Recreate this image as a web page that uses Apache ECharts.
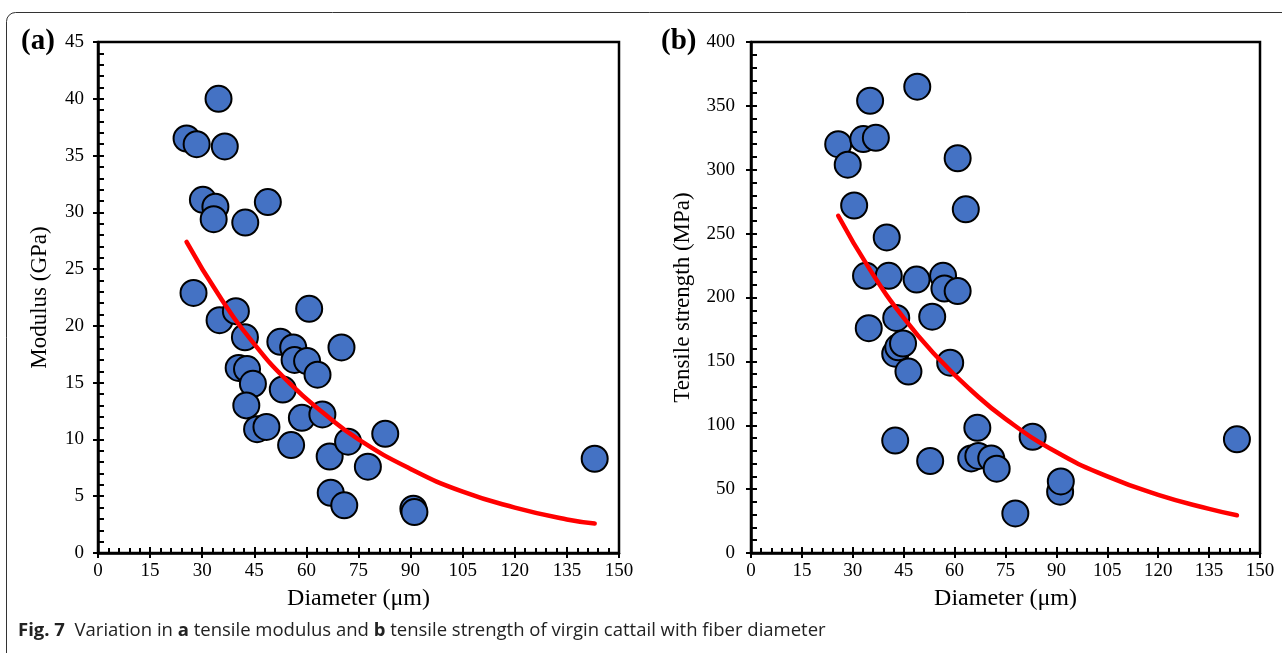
<!DOCTYPE html>
<html>
<head>
<meta charset="utf-8">
<script src="https://cdn.jsdelivr.net/npm/echarts@6/dist/echarts.min.js"></script>
<style>
html,body{margin:0;padding:0;background:#fff;}
#chart{width:1282px;height:653px;}
</style>
</head>
<body>
<div id="chart"></div>
<script>
// ---- Data ----
// Panel (a): modulus vs diameter
const diamA = [25.5, 28.4, 34.7, 36.5, 30.2, 33.8, 33.3, 42.4, 48.9, 27.5, 35.0, 39.7, 60.8,
  42.3, 52.5, 56.2, 56.6, 60.2, 63.2, 70.1, 40.5, 42.9, 44.6, 53.2, 42.7, 45.8, 48.5, 58.7,
  64.6, 55.6, 66.7, 72.0, 77.7, 82.7, 67.0, 70.9, 90.8, 91.1, 143.0];
const modA = [36.5, 36.0, 40.0, 35.8, 31.1, 30.5, 29.4, 29.1, 30.9, 22.9, 20.5, 21.3, 21.5,
  19.0, 18.6, 18.1, 17.0, 16.9, 15.7, 18.1, 16.3, 16.2, 14.9, 14.4, 13.0, 10.9, 11.1, 11.9,
  12.2, 9.5, 8.5, 9.8, 7.6, 10.5, 5.3, 4.2, 3.9, 3.6, 8.3];
// fitted trend line (a)
const fitDiamA = [25.5, 35, 45, 55, 65, 75, 90, 105, 120, 135, 143];
const fitModA = [27.4, 22.6, 18.4, 15.0, 12.3, 10.0, 7.4, 5.4, 4.0, 2.95, 2.6];

// Panel (b): tensile strength vs diameter
const diamB = [49.0, 35.1, 25.7, 33.1, 36.8, 28.5, 60.9, 30.4, 63.3, 40.0, 33.9, 40.6, 48.8,
  56.6, 57.0, 60.9, 42.8, 53.4, 34.7, 42.5, 43.4, 44.8, 46.4, 58.7, 42.5, 52.8, 66.7, 64.9,
  67.0, 70.8, 72.4, 83.0, 91.1, 91.3, 77.9, 143.2];
const strB = [365, 354, 320, 324, 325, 304, 309, 272, 269, 247, 217, 217, 214,
  217, 207, 205, 184, 185, 176, 156, 161, 164, 142, 149, 88, 72, 98, 74,
  76, 74, 66, 91, 48, 56, 31, 89];
const fitDiamB = [25.7, 35, 45, 55, 65, 75, 90, 105, 120, 135, 143.2];
const fitStrB = [264, 222, 184, 153, 127, 105, 79, 60, 45.5, 34.5, 29.5];

const xTicks = [0, 15, 30, 45, 60, 75, 90, 105, 120, 135, 150];
const yTicksA = [0, 5, 10, 15, 20, 25, 30, 35, 40, 45];
const yTicksB = [0, 50, 100, 150, 200, 250, 300, 350, 400];

// ---- Chart ----
const chart = echarts.init(document.getElementById('chart'));
const SERIF = 'Liberation Serif';
const pairs = (xs, ys) => xs.map((x, i) => [x, ys[i]]);

function mainX(gridIndex) {
  return {
    type: 'value', gridIndex, min: xTicks[0], max: xTicks[xTicks.length - 1],
    interval: xTicks[1] - xTicks[0],
    name: 'Diameter (\u03bcm)', nameLocation: 'middle', nameGap: 34,
    nameTextStyle: { fontFamily: SERIF, fontSize: 24, color: '#000' },
    axisLine: { show: true, onZero: false, lineStyle: { color: '#000', width: 2.5 } },
    axisTick: { show: true, inside: false, length: 5, lineStyle: { color: '#000', width: 2 } },
    axisLabel: { fontFamily: SERIF, fontSize: 19, color: '#000', margin: 9 },
    splitLine: { show: false }
  };
}
function overlayX(gridIndex) {
  return {
    type: 'value', gridIndex, min: xTicks[0], max: xTicks[xTicks.length - 1],
    interval: xTicks[1] - xTicks[0], position: 'bottom',
    axisLine: { show: false, onZero: false },
    axisTick: { show: true, inside: true, length: 6, lineStyle: { color: '#000', width: 2 } },
    minorTick: { show: true, splitNumber: 5, length: 5, lineStyle: { color: '#000', width: 2 } },
    axisLabel: { show: false }, splitLine: { show: false }
  };
}
function mainY(gridIndex, ticks, name, nameGap, margin) {
  return {
    type: 'value', gridIndex, min: ticks[0], max: ticks[ticks.length - 1],
    interval: ticks[1] - ticks[0],
    name, nameLocation: 'middle', nameGap,
    nameTextStyle: { fontFamily: SERIF, fontSize: 23, color: '#000' },
    axisLine: { show: true, onZero: false, lineStyle: { color: '#000', width: 2.5 } },
    axisTick: { show: true, inside: false, length: 5, lineStyle: { color: '#000', width: 2 } },
    axisLabel: { fontFamily: SERIF, fontSize: 19, color: '#000', margin },
    splitLine: { show: false }
  };
}
function overlayY(gridIndex, ticks) {
  return {
    type: 'value', gridIndex, min: ticks[0], max: ticks[ticks.length - 1],
    interval: ticks[1] - ticks[0], position: 'left',
    axisLine: { show: false, onZero: false },
    axisTick: { show: true, inside: true, length: 6, lineStyle: { color: '#000', width: 2 } },
    minorTick: { show: true, splitNumber: 5, length: 6, lineStyle: { color: '#000', width: 2 } },
    axisLabel: { show: false }, splitLine: { show: false }
  };
}
const scatterStyle = {
  type: 'scatter', symbol: 'circle', symbolSize: 26,
  itemStyle: { color: '#4472C4', borderColor: '#000', borderWidth: 2, opacity: 1 },
  emphasis: { disabled: true }, z: 3
};
const lineStyle = {
  type: 'line', smooth: true, showSymbol: false, symbol: 'none',
  lineStyle: { color: '#FF0000', width: 4.5, cap: 'round' }, z: 4,
  emphasis: { disabled: true }
};

chart.setOption({
  animation: false,
  backgroundColor: '#fff',
  grid: [
    { left: 98, top: 42, width: 521, height: 511, show: true, borderColor: '#000', borderWidth: 2.5, backgroundColor: 'transparent' },
    { left: 751, top: 42, width: 509, height: 511, show: true, borderColor: '#000', borderWidth: 2.5, backgroundColor: 'transparent' }
  ],
  xAxis: [mainX(0), overlayX(0), mainX(1), overlayX(1)],
  yAxis: [
    mainY(0, yTicksA, 'Modulus (GPa)', 47, 14),
    overlayY(0, yTicksA),
    mainY(1, yTicksB, 'Tensile strength (MPa)', 57, 16),
    overlayY(1, yTicksB)
  ],
  series: [
    Object.assign({}, scatterStyle, { xAxisIndex: 0, yAxisIndex: 0, data: pairs(diamA, modA) }),
    Object.assign({}, lineStyle, { xAxisIndex: 0, yAxisIndex: 0, data: pairs(fitDiamA, fitModA) }),
    Object.assign({}, scatterStyle, { xAxisIndex: 2, yAxisIndex: 2, data: pairs(diamB, strB) }),
    Object.assign({}, lineStyle, { xAxisIndex: 2, yAxisIndex: 2, data: pairs(fitDiamB, fitStrB) })
  ],
  graphic: [
    { type: 'rect', left: 4, top: 10, z: 0, silent: true,
      shape: { width: 1320, height: 660, r: 9 },
      style: { fill: 'none', stroke: '#333', lineWidth: 1 } },
    { type: 'text', left: 21, top: 27, z: 10,
      style: { text: '(a)', fontFamily: SERIF, fontWeight: 'bold', fontSize: 29, fill: '#000' } },
    { type: 'text', left: 661, top: 27, z: 10,
      style: { text: '(b)', fontFamily: SERIF, fontWeight: 'bold', fontSize: 29, fill: '#000' } },
    { type: 'text', left: 18, top: 621, z: 10,
      style: {
        text: '{b|Fig. 7}  Variation in {b|a} tensile modulus and {b|b} tensile strength of virgin cattail with fiber diameter',
        fontFamily: 'Open Sans', fontSize: 18.5, fill: '#222',
        rich: { b: { fontFamily: 'Open Sans', fontWeight: 'bold', fontSize: 18.5, fill: '#222' } }
      } }
  ]
});
</script>
</body>
</html>
